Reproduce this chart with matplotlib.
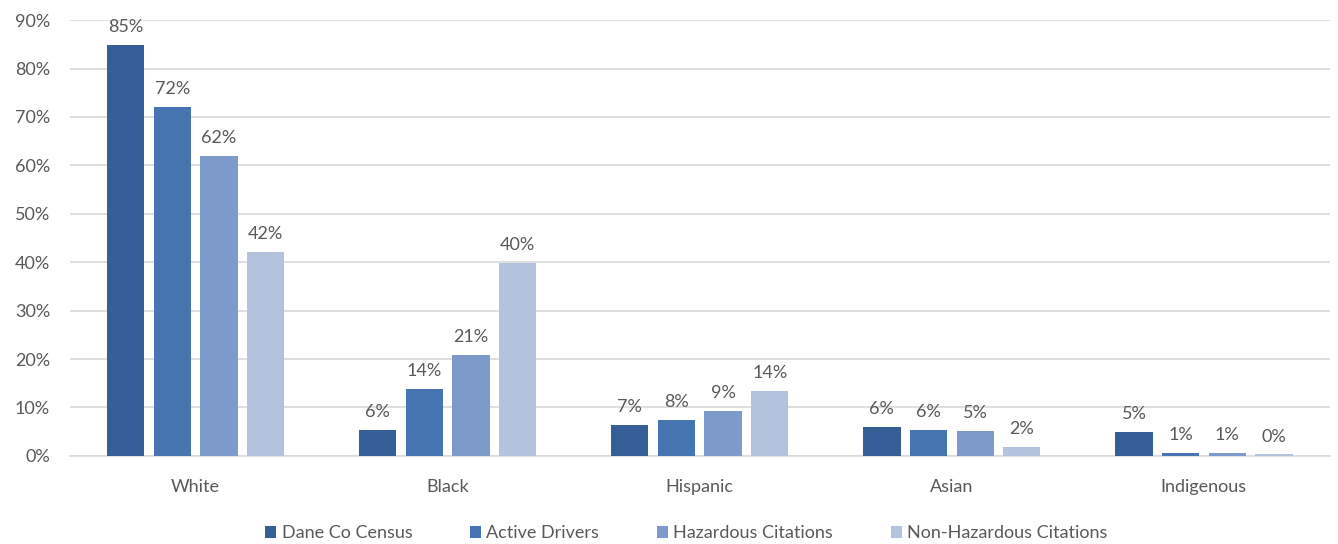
import numpy as np
import matplotlib.pyplot as plt
from matplotlib.ticker import FuncFormatter

plt.rcParams['font.family'] = ['Lato', 'DejaVu Sans']

categories = ["White", "Black", "Hispanic", "Asian", "Indigenous"]
series = ["Dane Co Census", "Active Drivers", "Hazardous Citations", "Non-Hazardous Citations"]

census = [84.9, 5.4, 6.4, 6.0, 5.0]
drivers = [72.1, 13.8, 7.4, 5.4, 0.6]
hazardous = [61.9, 20.9, 9.3, 5.2, 0.6]
non_hazardous = [42.1, 39.9, 13.5, 1.9, 0.3]

census_labels = ["85%", "6%", "7%", "6%", "5%"]
drivers_labels = ["72%", "14%", "8%", "6%", "1%"]
hazardous_labels = ["62%", "21%", "9%", "5%", "1%"]
non_hazardous_labels = ["42%", "40%", "14%", "2%", "0%"]

colors = ["#365F97", "#4775B2", "#7D9ACB", "#B3C3DE"]
text_color = "#595959"

fig = plt.figure(figsize=(13.38, 5.44), dpi=100)
ax = fig.add_axes([0.052, 0.162, 0.942, 0.801])

x = np.arange(len(categories))
step = 0.185
width = 0.148
all_vals = [census, drivers, hazardous, non_hazardous]
all_labels = [census_labels, drivers_labels, hazardous_labels, non_hazardous_labels]

for i, (vals, labs) in enumerate(zip(all_vals, all_labels)):
    pos = x + (i - 1.5) * step
    bars = ax.bar(pos, vals, width, color=colors[i], label=series[i], zorder=3)
    ax.bar_label(bars, labels=labs, padding=7, fontsize=13, color=text_color)

ax.set_xlim(-0.5, len(categories) - 0.5)
ax.set_ylim(0, 90)
ax.set_yticks(np.arange(0, 91, 10))
ax.yaxis.set_major_formatter(FuncFormatter(lambda v, p: f"{v:.0f}%"))
ax.set_xticks(x)
ax.set_xticklabels(categories)
ax.grid(axis="y", color="#D9D9D9", lw=1.2, zorder=0)
for s in ["top", "right", "left"]:
    ax.spines[s].set_visible(False)
ax.spines["bottom"].set_color("#D9D9D9")
ax.spines["bottom"].set_linewidth(1.2)
ax.tick_params(axis="both", length=0, labelsize=13, colors=text_color)
ax.tick_params(axis="x", pad=17)
ax.tick_params(axis="y", pad=14)

fig.legend(loc="lower center", ncol=4, frameon=False, fontsize=13,
           bbox_to_anchor=(0.513, -0.025), handlelength=0.6, handleheight=0.6,
           handletextpad=0.3, columnspacing=3.2, labelcolor=text_color)

fig.savefig("out.png", dpi=100)
